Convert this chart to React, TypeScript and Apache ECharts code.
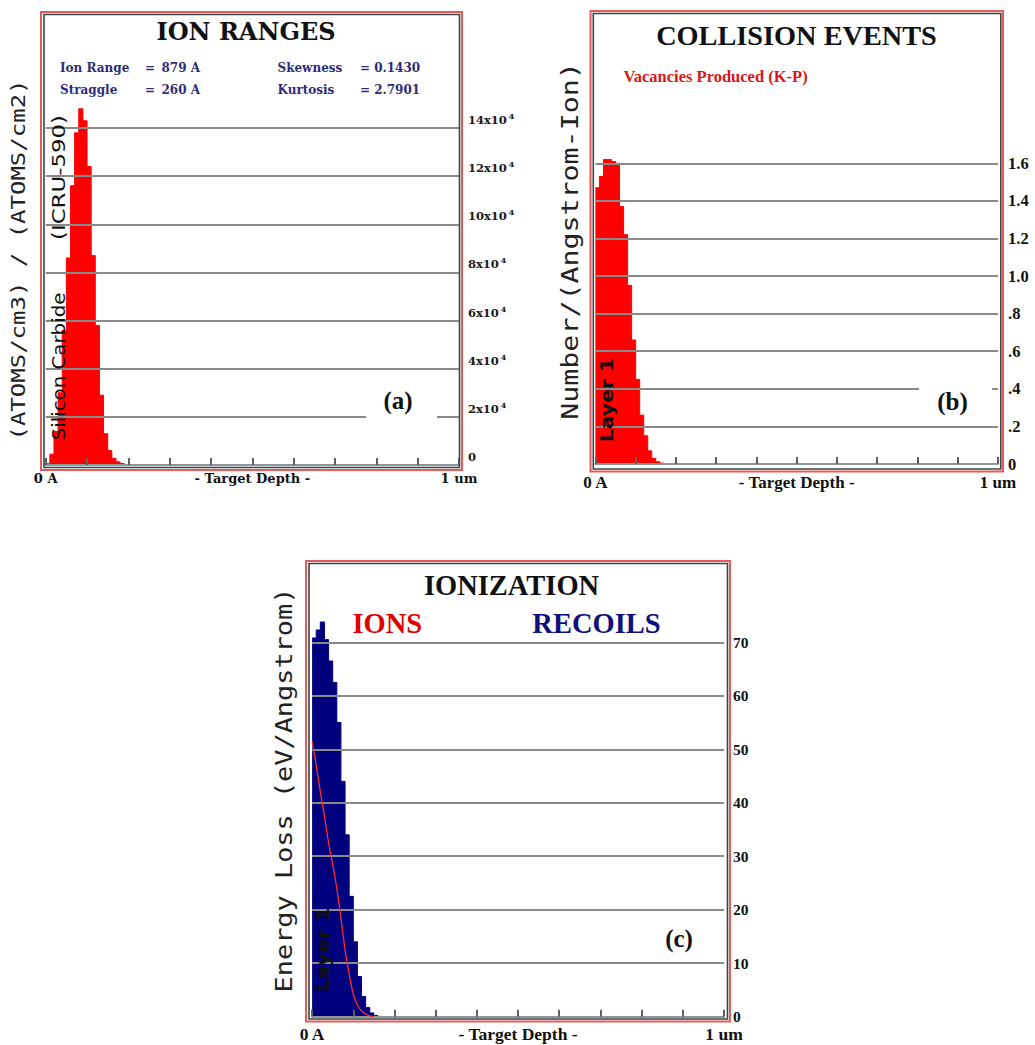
import React, { useEffect, useRef } from "react";
import * as echarts from "echarts";

// ---------- data ----------
// (a) Ion ranges, depth bins (Angstrom) and counts in units of 10^4 (atoms/cm3)/(atoms/cm2)
const depthA = [0, 100, 200, 300, 400, 500, 600, 700, 800, 900, 1000, 1100, 1200, 1300, 1400, 1500, 1600, 1700, 1800, 1900, 2000];
const ionRange = [0.05, 0.45, 1.4, 3.0, 5.6, 8.6, 11.6, 13.8, 14.8, 14.3, 12.4, 8.7, 5.8, 2.9, 1.3, 0.6, 0.28, 0.13, 0.06, 0.02, 0];

// (b) Collision events: vacancies produced (K-P), number/(Angstrom-ion)
const depthB = [0, 100, 200, 300, 400, 500, 600, 700, 800, 900, 1000, 1100, 1200, 1300, 1400, 1500, 1600, 1700];
const vacancies = [1.47, 1.53, 1.62, 1.62, 1.61, 1.6, 1.37, 1.22, 0.95, 0.66, 0.45, 0.26, 0.15, 0.07, 0.03, 0.012, 0.005, 0];

// (c) Ionization: recoils histogram and ions curve, eV/Angstrom
const depthC = [0, 100, 200, 300, 400, 500, 600, 700, 800, 900, 1000, 1100, 1200, 1300, 1400, 1500, 1600, 1700];
const recoils = [70.8, 72.3, 73.8, 70.5, 66.5, 62.5, 55, 44, 34, 22.5, 14, 7.5, 3.8, 1.7, 0.7, 0.2, 0.05, 0];
const depthIons = [0, 100, 200, 300, 400, 500, 600, 700, 800, 900, 1000, 1100, 1200, 1300, 1400, 1500];
const ions = [51.5, 47, 42, 37.5, 32.5, 28.5, 24, 18.5, 12.5, 8, 4.2, 2.2, 1.1, 0.5, 0.15, 0];

// tick labels
const yLabelsA = ["0", "2", "4", "6", "8", "10", "12", "14"];
const yLabelsB = ["0", ".2", ".4", ".6", ".8", "1.0", "1.2", "1.4", "1.6"];
const yLabelsC = ["0", "10", "20", "30", "40", "50", "60", "70"];
const xMinLabel = "0 A";
const xMaxLabel = "1 um";
const xName = "- Target Depth -";

// ---------- styles ----------
const serifW = "'DejaVu Serif', serif";
const serifT = "'Liberation Serif', 'Times New Roman', serif";
const mono = "'DejaVu Sans Mono', monospace";
const sans = "'DejaVu Sans', sans-serif";
const GRID = "#8a8a8a";

function mkX(gridIndex: number, family: string, size: number, margin: number, lineHeight: number) {
  const lab = { fontFamily: family, fontSize: size, fontWeight: "bold", color: "#111", lineHeight };
  return {
    type: "value",
    gridIndex,
    min: 0,
    max: 10000,
    interval: 1000,
    z: 3,
    axisLine: { show: true, lineStyle: { color: "#8e9898", width: 2 } },
    axisTick: { show: true, inside: true, length: 7, lineStyle: { color: "#5a6262", width: 2 } },
    splitLine: { show: false },
    axisLabel: {
      ...lab,
      margin,
      showMinLabel: true,
      showMaxLabel: true,
      hideOverlap: false,
      formatter: (v: number) => (v === 0 ? xMinLabel : v === 10000 ? xMaxLabel : ""),
    },
    name: xName,
    nameLocation: "middle",
    nameGap: margin,
    nameMoveOverlap: false,
    nameTextStyle: { ...lab, verticalAlign: "top" },
  };
}

function mkY(gridIndex: number, max: number, interval: number, labels: string[], extra: any) {
  return {
    type: "value",
    gridIndex,
    position: "right",
    min: 0,
    max,
    interval,
    z: 3,
    axisLine: { show: false },
    axisTick: { show: false },
    splitLine: { show: true, lineStyle: { color: GRID, width: 2 } },
    axisLabel: {
      formatter: (v: number) => labels[Math.round(v / interval)] ?? "",
      ...extra,
    },
  };
}

function txt(x: number, y: number, text: string, family: string, size: number, fill: string, o: any = {}) {
  const align = o.align || "center";
  return {
    type: "text",
    x,
    y,
    rotation: o.rotation || 0,
    scaleX: o.scaleX || 1,
    z: 100,
    silent: true,
    style: {
      text,
      fontFamily: family,
      fontSize: size,
      fontWeight: o.weight || "bold",
      fill,
      align,
      verticalAlign: "middle",
      textAlign: align,
      textVerticalAlign: "middle",
    },
  };
}

function rect(x: number, y: number, w: number, h: number, stroke: string, lw: number, fill = "none") {
  return {
    type: "rect",
    z: fill === "none" ? 100 : 50,
    silent: true,
    shape: { x, y, width: w, height: h },
    style: { fill, stroke: fill === "none" ? stroke : "none", lineWidth: lw },
  };
}

function stepSeries(xi: number, depths: number[], vals: number[], color: string) {
  return {
    type: "line",
    xAxisIndex: xi,
    yAxisIndex: xi,
    step: "end",
    symbol: "none",
    showSymbol: false,
    clip: false,
    z: 2,
    data: depths.map((d, i) => [d, vals[i]]),
    lineStyle: { color, width: 1 },
    areaStyle: { color, opacity: 1 },
  };
}

const RED = "#e65a5a";
const DARK = "#3a4646";
const HALF_PI = Math.PI / 2;

export default function App() {
  const ref = useRef<HTMLDivElement>(null);

  useEffect(() => {
    if (!ref.current) return;
    const chart = echarts.init(ref.current, undefined, { renderer: "svg" });
    const statColor = "#2d2d78";
    const gridBase = { containLabel: false, outerBoundsMode: "none" };
    const option: any = {
      animation: false,
      backgroundColor: "#ffffff",
      grid: [
        { ...gridBase, left: 45.7, top: 128, width: 413.3, height: 337 },
        { ...gridBase, left: 595.4, top: 163.3, width: 402.6, height: 300.7 },
        { ...gridBase, left: 312.1, top: 642.3, width: 411.9, height: 374.4 },
      ],
      xAxis: [mkX(0, serifW, 13, 6, 14), mkX(1, serifT, 17, 10.5, 15), mkX(2, serifT, 17.5, 11, 13)],
      yAxis: [
        mkY(0, 14, 2, yLabelsA, {
          margin: 9,
          verticalAlign: "bottom",
          formatter: (v: number) => {
            const l = yLabelsA[Math.round(v / 2)];
            return v === 0 ? `{a|${l}}` : `{a|${l}x10}{s|4}`;
          },
          rich: {
            a: { fontFamily: serifW, fontWeight: "bold", fontSize: 11.5, color: "#1a1a1a", lineHeight: 16 },
            s: { fontFamily: serifW, fontWeight: "bold", fontSize: 8, color: "#1a1a1a", verticalAlign: "top", padding: [0, 0, 0, 2] },
          },
        }),
        mkY(1, 1.6, 0.2, yLabelsB, { margin: 10, fontFamily: serifT, fontWeight: "bold", fontSize: 16.5, lineHeight: 13, color: "#111" }),
        mkY(2, 70, 10, yLabelsC, { margin: 9, fontFamily: serifT, fontWeight: "bold", fontSize: 15.5, lineHeight: 12, color: "#111" }),
      ],
      series: [
        stepSeries(0, depthA, ionRange, "#ff0000"),
        stepSeries(1, depthB, vacancies, "#ff0000"),
        stepSeries(2, depthC, recoils, "#00007f"),
        {
          type: "line",
          xAxisIndex: 2,
          yAxisIndex: 2,
          symbol: "none",
          showSymbol: false,
          smooth: 0.3,
          z: 5,
          data: depthIons.map((d, i) => [d, ions[i]]),
          lineStyle: { color: "#ff2a2a", width: 1.3 },
        },
      ],
      graphic: {
        elements: [
          // frames
          rect(41, 12, 421, 458, RED, 2),
          rect(44, 14.5, 415.5, 453, DARK, 1.6),
          rect(590.5, 11, 412.5, 460.5, RED, 2),
          rect(593.3, 13.5, 407.5, 455.5, DARK, 1.6),
          rect(306, 561, 424, 460.5, RED, 2),
          rect(309, 563.5, 418.5, 455.5, DARK, 1.6),
          // label boxes covering grid lines
          rect(366, 412, 71, 12, "none", 0, "#ffffff"),
          rect(919, 385, 73, 10, "none", 0, "#ffffff"),

          // panel (a)
          txt(246, 31.5, "ION RANGES", serifW, 24, "#111"),
          txt(60, 67.7, "Ion Range", serifW, 12, statColor, { align: "left" }),
          txt(145, 67.7, "=", serifW, 12, statColor, { align: "left" }),
          txt(161.5, 67.7, "879 A", serifW, 12, statColor, { align: "left" }),
          txt(277.5, 67.7, "Skewness", serifW, 12, statColor, { align: "left" }),
          txt(360, 67.7, "= 0.1430", serifW, 12, statColor, { align: "left" }),
          txt(60, 90, "Straggle", serifW, 12, statColor, { align: "left" }),
          txt(145, 90, "=", serifW, 12, statColor, { align: "left" }),
          txt(161.5, 90, "260 A", serifW, 12, statColor, { align: "left" }),
          txt(277.5, 90, "Kurtosis", serifW, 12, statColor, { align: "left" }),
          txt(360, 90, "= 2.7901", serifW, 12, statColor, { align: "left" }),
          txt(398, 400, "(a)", serifT, 25, "#111"),
          txt(18, 260, "(ATOMS/cm3) / (ATOMS/cm2)", mono, 20, "#222", { rotation: HALF_PI, scaleX: 1.2, weight: "normal" }),
          txt(58.5, 366.5, "Silicon Carbide", sans, 18, "#111", { rotation: HALF_PI, scaleX: 1.1, weight: "normal" }),
          txt(58.5, 177.5, "(ICRU-590)", sans, 18, "#111", { rotation: HALF_PI, scaleX: 1.27, weight: "normal" }),

          // panel (b)
          txt(796.5, 35, "COLLISION EVENTS", serifT, 28.3, "#111"),
          txt(715.5, 76, "Vacancies Produced (K-P)", serifT, 16.5, "#d81818"),
          txt(952.5, 401.5, "(b)", serifT, 25, "#111"),
          txt(570, 241, "Number/(Angstrom-Ion)", mono, 23, "#222", { rotation: HALF_PI, scaleX: 1.23, weight: "normal" }),
          txt(607, 400, "Layer 1", sans, 17, "#111", { rotation: HALF_PI, scaleX: 1.2 }),

          // panel (c)
          txt(511.5, 585, "IONIZATION", serifT, 28.5, "#111"),
          txt(387.3, 623.3, "IONS", serifT, 28.5, "#e00000"),
          txt(596.5, 623.3, "RECOILS", serifT, 28.5, "#10107a"),
          txt(679, 938.5, "(c)", serifT, 25, "#111"),
          txt(284, 790, "Energy Loss (eV/Angstrom)", mono, 23, "#222", { rotation: HALF_PI, scaleX: 1.17, weight: "normal" }),
          txt(323, 950, "Layer 1", sans, 17, "#111", { rotation: HALF_PI, scaleX: 1.2 }),
        ],
      },
    };
    chart.setOption(option);
    return () => chart.dispose();
  }, []);

  return (
    <div
      ref={ref}
      style={{ position: "absolute", left: 0, top: 0, width: 1035, height: 1045, background: "#fff" }}
    />
  );
}
